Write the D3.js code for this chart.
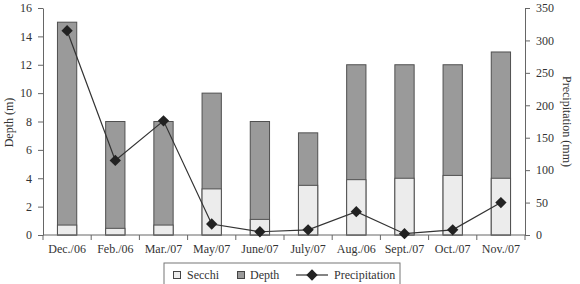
<!DOCTYPE html>
<html>
<head>
<meta charset="utf-8">
<script src="https://cdn.jsdelivr.net/npm/d3@7"></script>
<style>
  body { margin: 0; background: #fff; }
  svg text { font-family: 'Liberation Serif', 'Times New Roman', serif; fill: #333; font-size: 12px; }
</style>
</head>
<body>
<div id="chart"></div>
<script>
const months = ['Dec./06', 'Feb./06', 'Mar./07', 'May/07', 'June/07', 'July/07', 'Aug./06', 'Sept./07', 'Oct./07', 'Nov./07'];
const secchi = [0.7, 0.47, 0.7, 3.25, 1.1, 3.5, 3.9, 4.0, 4.2, 4.0];
const depth = [15, 8, 8, 10, 8, 7.2, 12, 12, 12, 12.9];
const precip = [315, 115, 176, 17, 5, 8, 36, 2, 8, 50];
const depthTicks = [0, 2, 4, 6, 8, 10, 12, 14, 16];
const precipTicks = [0, 50, 100, 150, 200, 250, 300, 350];

const width = 580, height = 284;
const area = { left: 43, right: 525, top: 8, bottom: 235 };
const axisColor = '#666';

const svg = d3.select('#chart').append('svg')
    .attr('width', width)
    .attr('height', height);

const x = d3.scaleBand()
    .domain(months)
    .range([area.left, area.right])
    .paddingInner(0.6)
    .paddingOuter(0.3);

const yDepth = d3.scaleLinear().domain([0, 16]).range([area.bottom, area.top]);
const yPrecip = d3.scaleLinear().domain([0, 350]).range([area.bottom, area.top]);

// bars: total depth, then secchi drawn over it from the bottom
const bars = svg.append('g');
bars.selectAll('rect.depth')
    .data(months)
    .join('rect')
    .attr('class', 'depth')
    .attr('x', d => x(d))
    .attr('width', x.bandwidth())
    .attr('y', (d, i) => yDepth(depth[i]))
    .attr('height', (d, i) => yDepth(0) - yDepth(depth[i]))
    .attr('fill', '#9a9a9a')
    .attr('stroke', '#505050')
    .attr('stroke-width', 1);

bars.selectAll('rect.secchi')
    .data(months)
    .join('rect')
    .attr('class', 'secchi')
    .attr('x', d => x(d))
    .attr('width', x.bandwidth())
    .attr('y', (d, i) => yDepth(secchi[i]))
    .attr('height', (d, i) => yDepth(0) - yDepth(secchi[i]))
    .attr('fill', '#ececec')
    .attr('stroke', '#505050')
    .attr('stroke-width', 1);

// axes
const styleAxis = g => {
    g.selectAll('path, line').attr('stroke', axisColor);
    g.selectAll('text').attr('fill', '#333');
};

svg.append('g')
    .attr('transform', `translate(${area.left},0)`)
    .call(d3.axisLeft(yDepth).tickValues(depthTicks).tickSize(5).tickSizeOuter(0).tickPadding(6))
    .call(styleAxis);

svg.append('g')
    .attr('transform', `translate(${area.right},0)`)
    .call(d3.axisRight(yPrecip).tickValues(precipTicks).tickSize(5).tickSizeOuter(0).tickPadding(6))
    .call(styleAxis);

// x axis, ticks sit on the band boundaries
const xAxis = svg.append('g')
    .attr('transform', `translate(0,${area.bottom})`);
xAxis.append('line')
    .attr('x1', area.left).attr('x2', area.right)
    .attr('stroke', axisColor);
const bounds = d3.range(months.length + 1).map(i => area.left + i * x.step());
xAxis.selectAll('line.tick')
    .data(bounds)
    .join('line')
    .attr('class', 'tick')
    .attr('x1', d => d).attr('x2', d => d)
    .attr('y1', 0).attr('y2', 5)
    .attr('stroke', axisColor);
xAxis.selectAll('text')
    .data(months)
    .join('text')
    .attr('x', d => x(d) + x.bandwidth() / 2)
    .attr('y', 18)
    .attr('text-anchor', 'middle')
    .text(d => d);

// precipitation line
const line = d3.line()
    .x((d, i) => x(months[i]) + x.bandwidth() / 2)
    .y(d => yPrecip(d));

svg.append('path')
    .datum(precip)
    .attr('d', line)
    .attr('fill', 'none')
    .attr('stroke', '#333')
    .attr('stroke-width', 1.2);

const diamond = d3.symbol().type(d3.symbolSquare).size(64);
svg.selectAll('path.marker')
    .data(precip)
    .join('path')
    .attr('class', 'marker')
    .attr('d', diamond)
    .attr('transform', (d, i) => `translate(${x(months[i]) + x.bandwidth() / 2},${yPrecip(d)}) rotate(45)`)
    .attr('fill', '#222');

// axis titles
svg.append('text')
    .attr('transform', `translate(13,${(area.top + area.bottom) / 2 + 1}) rotate(-90)`)
    .attr('text-anchor', 'middle')
    .text('Depth (m)');

svg.append('text')
    .attr('transform', `translate(563,${(area.top + area.bottom) / 2}) rotate(90)`)
    .attr('text-anchor', 'middle')
    .text('Precipitation (mm)');

// legend
const legend = svg.append('g').attr('transform', 'translate(164,263)');
legend.append('rect')
    .attr('width', 236).attr('height', 24)
    .attr('fill', '#fff').attr('stroke', '#777');

legend.append('rect')
    .attr('x', 9.5).attr('y', 8.5).attr('width', 7).attr('height', 7)
    .attr('fill', '#ececec').attr('stroke', '#444');
legend.append('text').attr('x', 23).attr('y', 16).text('Secchi');

legend.append('rect')
    .attr('x', 73.5).attr('y', 8.5).attr('width', 7).attr('height', 7)
    .attr('fill', '#9a9a9a').attr('stroke', '#444');
legend.append('text').attr('x', 86).attr('y', 16).text('Depth');

legend.append('line')
    .attr('x1', 132).attr('x2', 164).attr('y1', 12).attr('y2', 12)
    .attr('stroke', '#333').attr('stroke-width', 1.2);
legend.append('path')
    .attr('d', diamond)
    .attr('transform', 'translate(148,12) rotate(45)')
    .attr('fill', '#222');
legend.append('text').attr('x', 170).attr('y', 16).text('Precipitation');
</script>
</body>
</html>
